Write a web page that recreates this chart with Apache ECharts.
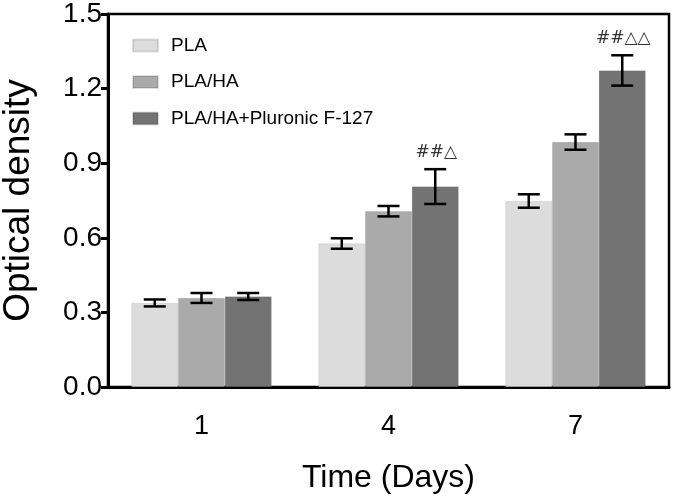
<!DOCTYPE html>
<html>
<head>
<meta charset="utf-8">
<script src="https://cdn.jsdelivr.net/npm/echarts@6/dist/echarts.min.js"></script>
<style>html,body{margin:0;padding:0;background:#fff}#c{width:675px;height:500px}</style>
</head>
<body>
<div id="c"></div>
<script>
const categories = ['1', '4', '7'];
const seriesNames = ['PLA', 'PLA/HA', 'PLA/HA+Pluronic F-127'];
const plaMean = [0.338, 0.577, 0.748];
const plaErr = [0.014, 0.021, 0.027];
const plaHaMean = [0.358, 0.707, 0.985];
const plaHaErr = [0.020, 0.021, 0.031];
const f127Mean = [0.364, 0.806, 1.273];
const f127Err = [0.014, 0.070, 0.061];
const annotations = ['', '##\u25B3', '##\u25B3\u25B3'];
const yTicks = [0, 0.3, 0.6, 0.9, 1.2, 1.5];

const colors = ['#dcdcdc', '#aaaaaa', '#737373'];
const means = [plaMean, plaHaMean, f127Mean];
const errs = [plaErr, plaHaErr, f127Err];
const FONT = '"Liberation Sans", Arial, sans-serif';

const chart = echarts.init(document.getElementById('c'), null, {renderer: 'canvas'});

function errSeries(idx) {
  const data = categories.map((c, i) => [i, means[idx][i], errs[idx][i]]);
  return {
    type: 'custom',
    name: 'err' + idx,
    z: 10,
    data: data,
    encode: {x: 0, y: 1},
    renderItem: function (params, api) {
      const ci = api.value(0);
      const m = api.value(1);
      const e = api.value(2);
      const band = api.size([1, 0])[0];
      const bw = band * 0.75 / 3;
      const off = (idx - 1) * bw;
      const top = api.coord([ci, m + e]);
      const bot = api.coord([ci, m - e]);
      const x = top[0] + off;
      const cap = 11;
      const st = {stroke: '#000', lineWidth: 2.5};
      const children = [
        {type: 'line', shape: {x1: x, y1: top[1], x2: x, y2: bot[1]}, style: st},
        {type: 'line', shape: {x1: x - cap, y1: top[1], x2: x + cap, y2: top[1]}, style: st},
        {type: 'line', shape: {x1: x - cap, y1: bot[1], x2: x + cap, y2: bot[1]}, style: st}
      ];
      if (idx === 2) {
        const txt = annotations[ci];
        if (txt) {
          children.push({type: 'text', style: {text: txt, x: x + 1, y: top[1] - 8, align: 'center', verticalAlign: 'bottom', fontSize: 17, fontFamily: '"DejaVu Sans", sans-serif', fill: '#333'}});
        }
      }
      return {type: 'group', children: children};
    }
  };
}

const barSeries = seriesNames.map((n, i) => ({
  type: 'bar',
  name: n,
  data: means[i],
  barGap: '0%',
  barCategoryGap: '25%',
  itemStyle: {color: colors[i], borderColor: 'rgba(0,0,0,0.12)', borderWidth: 0.6},
  z: 2
}));

const option = {
  animation: false,
  backgroundColor: '#fff',
  grid: {left: 108, right: 6, top: 14, bottom: 113, show: true, borderColor: '#000', borderWidth: 2.5, backgroundColor: 'transparent', containLabel: false, outerBoundsMode: 'none'},
  legend: {
    data: seriesNames,
    orient: 'vertical',
    left: 132, top: 36,
    itemWidth: 25, itemHeight: 12, itemGap: 17.5,
    icon: 'rect',
    textStyle: {fontSize: 19, fontFamily: FONT, color: '#000', padding: [0, 0, 0, 8]},
    padding: 0
  },
  xAxis: {
    type: 'category',
    data: categories,
    axisTick: {show: false},
    axisLine: {lineStyle: {color: '#000', width: 3}},
    axisLabel: {fontSize: 27, fontFamily: FONT, color: '#000', margin: 26},
    name: 'Time (Days)',
    nameLocation: 'middle',
    nameGap: 75,
    nameTextStyle: {fontSize: 32, fontFamily: FONT, color: '#000'}
  },
  yAxis: {
    type: 'value',
    min: yTicks[0], max: yTicks[yTicks.length - 1], interval: 0.3,
    splitLine: {show: false},
    axisLine: {show: true, lineStyle: {color: '#000', width: 3}},
    axisTick: {show: true, length: 7, lineStyle: {color: '#000', width: 3}},
    axisLabel: {fontSize: 28, fontFamily: FONT, color: '#000', margin: 6, formatter: v => v.toFixed(1)},
    name: 'Optical density',
    nameLocation: 'middle',
    nameGap: 71,
    nameTextStyle: {fontSize: 37, fontFamily: FONT, color: '#000'}
  },
  series: barSeries.concat([errSeries(0), errSeries(1), errSeries(2)])
};
chart.setOption(option);
</script>
</body>
</html>
